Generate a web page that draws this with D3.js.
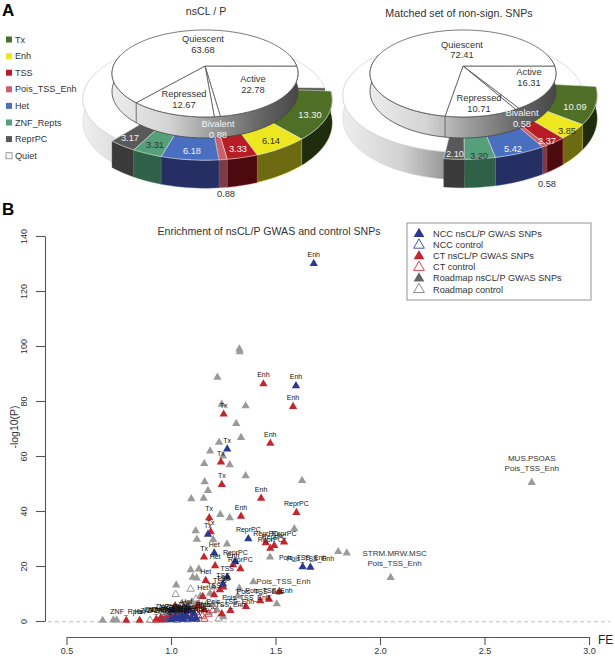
<!DOCTYPE html>
<html><head><meta charset="utf-8">
<style>html,body{margin:0;padding:0;background:#fff}svg{display:block}text{font-family:"Liberation Sans",Arial,sans-serif}</style>
<script src="https://cdn.jsdelivr.net/npm/d3@7/dist/d3.min.js"></script></head>
<body><svg id="c" width="615" height="658"></svg>
<script>
// ---------- Panel A data ----------
const stateNames = ["Tx","Enh","TSS","Pois_TSS_Enh","Het","ZNF_Repts","ReprPC","Quiet"];
const stateColors = ["#4f6f26","#ece71e","#b81c24","#c9606e","#4a6fc0","#55a07a","#595959","#ffffff"];
const stateWalls = ["#1f2d0e","#6e6a12","#4d0a0e","#7d3a44","#252f63","#2f6048","#3a3a3a","#bbbbbb"];
const groupNames = ["Active","Bivalent","Repressed","Quiescent"];
const groupsCase = [22.78,0.88,12.67,63.68];
const groupsCtrl = [16.31,0.58,10.71,72.41];
const statesCase = [13.30,6.14,3.33,0.88,6.18,3.31,3.17,63.68];
const statesCtrl = [10.09,3.85,2.37,0.58,5.42,3.20,2.10,72.41];
// ---------- Panel B data: [FE, -log10(P), label] ----------
const nccGwas = [[1.683,130,"Enh"],[1.598,85.5,"Enh"],[1.269,62.5,"Tx"],[1.177,31.5,"Tx"],[1.37,29.9,"ReprPC"],[1.207,24.7,"Het"],[1.308,21.5,"ReprPC"],[1.269,15.9,"TSS"],[1.249,13.4,"TSS"],[1.63,19.7,"Pois_TSS_Enh"],[1.667,19.5,"Pois_TSS_Enh"],[1.075,4,"Het"],[1.008,4,""],[1.09,4,""],[1.0,0.4,"ZNF_Rpts"],[1.02,1.5,"ZNF_Rpts"],[1.03,0.8,"ZNF_Rpts"],[1.05,2,"ZNF_Rpts"],[1.06,0.6,"Het"],[1.08,1.4,"ZNF_Rpts"],[1.1,0.9,"ZNF_Rpts"],[1.11,2.6,"ZNF_Rpts"],[1.12,1,""],[1.04,1,""],[1.07,2.5,""]];
const nccControl = [[0.97,0.5],[0.99,1],[1.0,0.6],[1.01,2],[1.02,1],[1.03,0.4],[1.04,1.5],[1.05,0.8],[1.06,2.4],[1.07,1],[1.08,0.5],[1.09,1.7],[1.1,3.8],[1.11,1.2],[1.12,0.6],[1.13,2],[1.01,4.2]];
const ctGwas = [[1.442,86.2,"Enh"],[1.584,78,"Enh"],[1.252,75.2,"Tx"],[1.475,64.6,"Enh"],[1.239,57.8,"Tx"],[1.243,49.6,"Tx"],[1.431,44.6,"Enh"],[1.183,37.5,"Tx"],[1.335,38.1,"Enh"],[1.6,39.4,"ReprPC"],[1.19,32.4,"Tx"],[1.453,28.4,"ReprPC"],[1.541,28.7,"ReprPC"],[1.494,27.4,"ReprPC"],[1.475,26.4,"ReprPC"],[1.158,23.2,"Tx"],[1.211,20.1,"Het"],[1.297,20.4,"Enh"],[1.332,19,"ReprPC"],[1.166,14.7,"Het"],[1.234,11.3,"TSS"],[1.25,12.3,"TSS"],[1.518,10.7,""],[1.206,9.5,"TSS"],[1.152,8.9,"Het"],[1.427,7.3,"Pois_TSS_Enh"],[1.469,7.9,"Pois_TSS_Enh"],[1.359,5.2,"Pois_TSS_Enh"],[1.284,3.8,"Pois_TSS_Enh"],[1.243,2.6,"Pois_TSS_Enh"],[0.786,0.2,"ZNF_Rpts"],[0.85,0.2,"Het"],[0.93,0.6,"ZNF_Rpts"],[0.95,1,"ZNF_Rpts"],[0.96,0.5,"ZNF_Rpts"],[0.98,0.9,"ZNF_Rpts"],[1.02,5.5,""],[1.0,2,"ZNF_Rpts"],[1.13,5.5,""],[1.16,4,""]];
const ctControl = [[0.93,0.3],[0.95,0.8],[0.96,0.4],[0.98,1.5],[1,3],[1.02,5],[1.04,2.5],[1.06,3.5],[1.08,2.6],[1.1,1.5],[1.12,3.2],[1.14,4.5],[1.15,1.8],[1.16,0.7],[1.18,2.5],[1.2,3.8],[1.13,6],[1.05,6]];
const roadmapGwas = [[1.327,98.9],[1.329,97.9],[1.222,88.6],[1.357,78.2],[1.243,78.8],[1.312,71.8],[1.335,66.7],[1.23,65],[1.187,61.8],[1.249,60],[1.159,57.2],[1.281,56.8],[1.357,52.8],[1.627,51.1],[1.161,50.6],[1.177,47.4],[1.097,44.4],[1.156,44.6],[1.236,38.7],[1.281,37.5],[1.118,32.8],[1.124,29.7],[1.202,29.6],[1.268,28],[1.59,33.5],[1.474,23.2],[1.094,18.6],[1.133,18.9],[1.104,15.9],[1.123,15.6],[1.025,13.1],[1.202,12.3],[1.187,10.1],[1.394,14.2],[1.327,11.9],[1.506,6.2],[1.32,9.1],[0.673,0.2],[0.724,0.3],[0.74,0.3],[1.8,25.2],[1.841,24.7],[2.051,15.8],[2.726,50.3],[0.97,1],[1.0,3],[1.04,3],[1.08,5],[1.1,7],[1.12,6],[1.15,5.5],[1.18,3],[1.2,6],[1.22,4],[1.25,1.5],[1.14,9]];
const roadmapControl = [[1.022,9.7],[1.094,11.6],[0.9,0.3],[1.228,0.8],[1.03,3.5],[1.07,6],[1.12,8],[1.17,6]];
const roadmapNotes = [[1.394,14.2,"Pois_TSS_Enh"]];
const tissueNotes = [[2.726,50.3,"MUS.PSOAS"],[2.051,15.8,"STRM.MRW.MSC"]];
const legendLabels = ["NCC nsCL/P GWAS SNPs","NCC control","CT nsCL/P GWAS SNPs","CT control","Roadmap nsCL/P GWAS SNPs","Roadmap control"];
const xTicks = [0.5,1.0,1.5,2.0,2.5,3.0];
const yTicks = [0,20,40,60,80,100,120,140];

const svg = d3.select("#c");
const defs = svg.append("defs");
const rad = d => d*Math.PI/180;
const lineGen = d3.line();

// ---- perspective projection of a pie plane
const T = 0.172, RX = 91.6, RY = 42.2;
function pt(g,a,k,h=0){
  const u=k*Math.sin(a), v=-k*Math.cos(a), w=1-T*v;
  return [g.cx+RX*u/w, g.cy+RY*v/w+h/w];
}
function arcPts(g,a0,a1,k,h=0){
  const n=Math.max(2,Math.ceil(Math.abs(a1-a0)/rad(2)));
  return d3.range(n+1).map(i=>pt(g,a0+(a1-a0)*i/n,k,h));
}
const poly = p => lineGen(p)+"Z";

function drawPie(root,opt){
  const {id,cx,cyTop,groups,states,ringCy,quietCy,kc,kq,ringStart,ringSpan,topLabels,ringLabels,outLabel}=opt;
  const gTop={cx,cy:cyTop}, gRing={cx,cy:ringCy}, gQuiet={cx,cy:quietCy};
  const H=21.5, HT=17.4, KIN=0.85;
  const grad=defs.append("linearGradient").attr("id","w"+id).attr("gradientUnits","userSpaceOnUse")
    .attr("x1",cx-RX).attr("x2",cx+RX).attr("y1",0).attr("y2",0);
  [[0,"#ececec"],[0.3,"#d4d4d4"],[0.55,"#999"],[0.8,"#666"],[1,"#484848"]].forEach(s=>grad.append("stop").attr("offset",s[0]).attr("stop-color",s[1]));
  const gq=defs.append("linearGradient").attr("id","q"+id).attr("gradientUnits","userSpaceOnUse")
    .attr("x1",cx-125).attr("x2",cx-20).attr("y1",0).attr("y2",0);
  [[0,"#f0f0f0"],[0.6,"#d2d2d2"],[1,"#9a9a9a"]].forEach(s=>gq.append("stop").attr("offset",s[0]).attr("stop-color",s[1]));

  const ring=d3.pie().sort(null).startAngle(rad(ringStart)).endAngle(rad(ringStart+360*ringSpan))(states);
  // Quiet wedge: back of the lower tier, closing the circle just short of Tx
  const q=ring[7], qEnd=rad(ringStart+360-3);
  root.append("path").attr("d",poly([pt(gQuiet,qEnd,KIN),pt(gQuiet,qEnd,kq),pt(gQuiet,qEnd,kq,H),pt(gQuiet,qEnd,KIN,H)])).attr("fill","#555");
  root.append("path").attr("d",poly([...arcPts(gQuiet,q.startAngle,rad(285),kq),...arcPts(gQuiet,rad(285),q.startAngle,kq,H)])).attr("fill",`url(#q${id})`).attr("stroke","#ccc").attr("stroke-width",0.5);
  root.append("path").attr("d",poly([...arcPts(gQuiet,q.startAngle,qEnd,kq),...arcPts(gQuiet,qEnd,q.startAngle,KIN)])).attr("fill","#fff").attr("stroke","#d0d0d0").attr("stroke-width",0.7);
  // coloured wedges, back to front
  const order=ring.slice(0,7).map((d,i)=>({d,i})).sort((a,b)=>Math.abs(Math.PI-(b.d.startAngle+b.d.endAngle)/2)-Math.abs(Math.PI-(a.d.startAngle+a.d.endAngle)/2));
  order.forEach(({d,i})=>{
    const a0=d.startAngle,a1=d.endAngle,mid=(a0+a1)/2;
    const faceA = mid<Math.PI ? a1 : a0;
    root.append("path").attr("d",poly([pt(gRing,faceA,KIN),pt(gRing,faceA,kc),pt(gRing,faceA,kc,H),pt(gRing,faceA,KIN,H)])).attr("fill",d3.color(stateWalls[i]).darker(0.5));
    root.append("path").attr("d",poly([...arcPts(gRing,a0,a1,kc),...arcPts(gRing,a1,a0,kc,H)])).attr("fill",stateWalls[i]).attr("stroke",stateColors[i]).attr("stroke-width",0.4);
    root.append("path").attr("d",poly([...arcPts(gRing,a0,a1,kc),...arcPts(gRing,a1,a0,KIN)])).attr("fill",stateColors[i]).attr("stroke","#dfe6da").attr("stroke-width",0.6);
  });
  // upper pie: wall
  root.append("path").attr("d",poly([...arcPts(gTop,rad(75),rad(285),1),...arcPts(gTop,rad(285),rad(75),1,HT)])).attr("fill",`url(#w${id})`).attr("stroke","#444").attr("stroke-width",0.8);
  const top=d3.pie().sort(null).startAngle(rad(90)).endAngle(rad(450))(groups);
  top.forEach(d=>{
    root.append("path").attr("d",poly([pt(gTop,0,0),...arcPts(gTop,d.startAngle,d.endAngle,1)])).attr("fill","#fff").attr("stroke","#555").attr("stroke-width",0.8);
  });
  const seam=top[2].endAngle;
  root.append("path").attr("d",lineGen([pt(gTop,seam,1),pt(gTop,seam,1,HT)])).attr("stroke","#555").attr("stroke-width",0.8);

  const lab=(x,y,t,c)=>root.append("text").attr("x",x).attr("y",y).attr("text-anchor","middle").attr("font-size",9.3).attr("fill",c||"#333").text(t);
  topLabels.forEach((p,i)=>{ const c=i===1?"#f4f4f4":"#333"; lab(p[0],p[1],groupNames[i],c); lab(p[0],p[1]+10.5,groups[i].toFixed(2),c); });
  ringLabels.forEach((p,i)=>{ if(p) lab(p[0],p[1],states[i].toFixed(2),p[2]); });
  lab(outLabel[0],outLabel[1],states[3].toFixed(2),"#333");
}

// headings
const txt=(x,y,t,s,o={})=>svg.append("text").attr("x",x).attr("y",y).attr("font-size",s).attr("fill",o.fill||"#333").attr("font-weight",o.w||"normal").attr("text-anchor",o.a||"start").text(t);
txt(2,16,"A",17,{fill:"#000",w:"bold"});
txt(2,215,"B",17,{fill:"#000",w:"bold"});
txt(206,15,"nsCL / P",10.7,{a:"middle"});
txt(459,17,"Matched set of non-sign. SNPs",10.7,{a:"middle"});
// state legend
stateNames.forEach((n,i)=>{
  const y=39.5+i*16.6;
  svg.append("rect").attr("x",6).attr("y",y-3).attr("width",6).attr("height",6)
    .attr("fill",stateColors[i]).attr("stroke",i===7?"#999":"none").attr("stroke-width",1);
  txt(15,y+3,n,9.1);
});
drawPie(svg.append("g"),{id:"a",cx:205,cyTop:66,groups:groupsCase,states:statesCase,ringCy:86,quietCy:86,kc:1.35,kq:1.3,ringStart:95,ringSpan:0.94,
  topLabels:[[253,82],[218,127],[184,97],[203,42]],
  ringLabels:[[310,118,"#f4f4f4"],[271,144,"#333"],[238,152,"#f4f4f4"],null,[192,154,"#f4f4f4"],[155,148,"#333"],[130,141,"#f0f0f0"]],outLabel:[226,197]});
drawPie(svg.append("g"),{id:"b",cx:463,cyTop:66,groups:groupsCtrl,states:statesCtrl,ringCy:80,quietCy:83,kc:1.42,kq:1.28,ringStart:96,ringSpan:0.91,
  topLabels:[[529,75],[522,116],[479,101],[462,47.5]],
  ringLabels:[[575,110,"#f4f4f4"],[567,134,"#333"],[547,144,"#f4f4f4"],null,[513,152,"#f4f4f4"],[479,159,"#333"],[455,157,"#f0f0f0"]],outLabel:[547,187]});

// ---------- Panel B ----------
const x=d3.scaleLinear().domain([0.5,3]).range([66.5,589]);
const y=d3.scaleLinear().domain([0,140]).range([621,236]);
txt(269,235,"Enrichment of nsCL/P GWAS and control SNPs",10.6,{a:"middle"});
svg.append("line").attr("x1",48).attr("x2",610).attr("y1",y(0)+0.8).attr("y2",y(0)+0.8).attr("stroke","#b5b5b5").attr("stroke-dasharray","4 3").attr("stroke-width",0.9);

const xAxis=svg.append("g").attr("transform","translate(0,637)").call(d3.axisBottom(x).tickValues(xTicks).tickFormat(d3.format(".1f")).tickSize(8).tickSizeOuter(0));
xAxis.selectAll("text").attr("font-size",9).attr("fill","#333").attr("y",11).attr("font-family",null);
const yAxis=svg.append("g").attr("transform","translate(45,0)").call(d3.axisLeft(y).tickValues(yTicks).tickSize(9).tickSizeOuter(0));
yAxis.selectAll("text").attr("font-size",9).attr("fill","#333").attr("font-family",null).attr("text-anchor","middle").attr("x",0).attr("y",0).attr("dy",0).attr("transform","translate(-18,0) rotate(-90)");
[xAxis,yAxis].forEach(a=>{a.selectAll("path,line").attr("stroke","#555").attr("stroke-width",1.1);});
txt(598,644,"FE",12,{fill:"#222"});
svg.append("text").attr("transform","translate(18,427) rotate(-90)").attr("text-anchor","middle").attr("font-size",10.5).attr("fill","#333").text("-log10(P)");

const tri=d3.symbol().type(d3.symbolTriangle).size(30);
const triOpen=d3.symbol().type(d3.symbolTriangle).size(24);
function pts(data,col,open){
  const gg=svg.append("g");
  gg.selectAll("path").data(data).join("path").attr("d",open?triOpen:tri)
    .attr("transform",d=>`translate(${x(d[0])},${y(d[1])})`)
    .attr("fill",open?"none":col).attr("stroke",open?col:"none").attr("stroke-width",open?1:0);
}
const BLUE="#2b3990",RED="#c1272d",GREY="#9a9a9a";
pts(roadmapControl,"#999",true);
pts(roadmapGwas,GREY,false);
pts(ctControl,"#d8434a",true);
pts(ctGwas,RED,false);
pts(nccControl,"#4550a8",true);
pts(nccGwas,BLUE,false);
// state labels
const labelled=[...ctGwas,...nccGwas].filter(d=>d[2]);
svg.append("g").selectAll("text").data(labelled).join("text")
  .attr("x",d=>x(d[0])).attr("y",d=>y(d[1])-6.5).attr("text-anchor","middle").attr("font-size",7).attr("fill","#111").text(d=>d[2]);
svg.append("g").selectAll("text").data(roadmapNotes).join("text")
  .attr("x",d=>x(d[0])+3).attr("y",d=>y(d[1])+2.5).attr("font-size",8).attr("fill","#333").text(d=>d[2]);
tissueNotes.forEach(d=>{
  const dx=d[0]>2.5?0:4;
  svg.append("text").attr("x",x(d[0])+dx).attr("y",y(d[1])-22).attr("text-anchor","middle").attr("font-size",8).attr("fill","#333").text(d[2]);
  svg.append("text").attr("x",x(d[0])+dx).attr("y",y(d[1])-12).attr("text-anchor","middle").attr("font-size",8).attr("fill","#333").text(stateNames[3]);
});
// legend
svg.append("rect").attr("x",407).attr("y",223).attr("width",184).attr("height",77).attr("fill","#fff").attr("stroke","#888").attr("stroke-width",0.9);
const lcol=[BLUE,"#4550a8",RED,"#d8434a","#666","#888"];
const ltri=d3.symbol().type(d3.symbolTriangle).size(50);
legendLabels.forEach((l,i)=>{
  const yy=234+i*11.1, open=i%2===1;
  svg.append("path").attr("d",ltri).attr("transform",`translate(419,${yy})`).attr("fill",open?"none":lcol[i]).attr("stroke",open?lcol[i]:"none").attr("stroke-width",1);
  txt(433,yy+3,l,9.2);
});
</script></body></html>
